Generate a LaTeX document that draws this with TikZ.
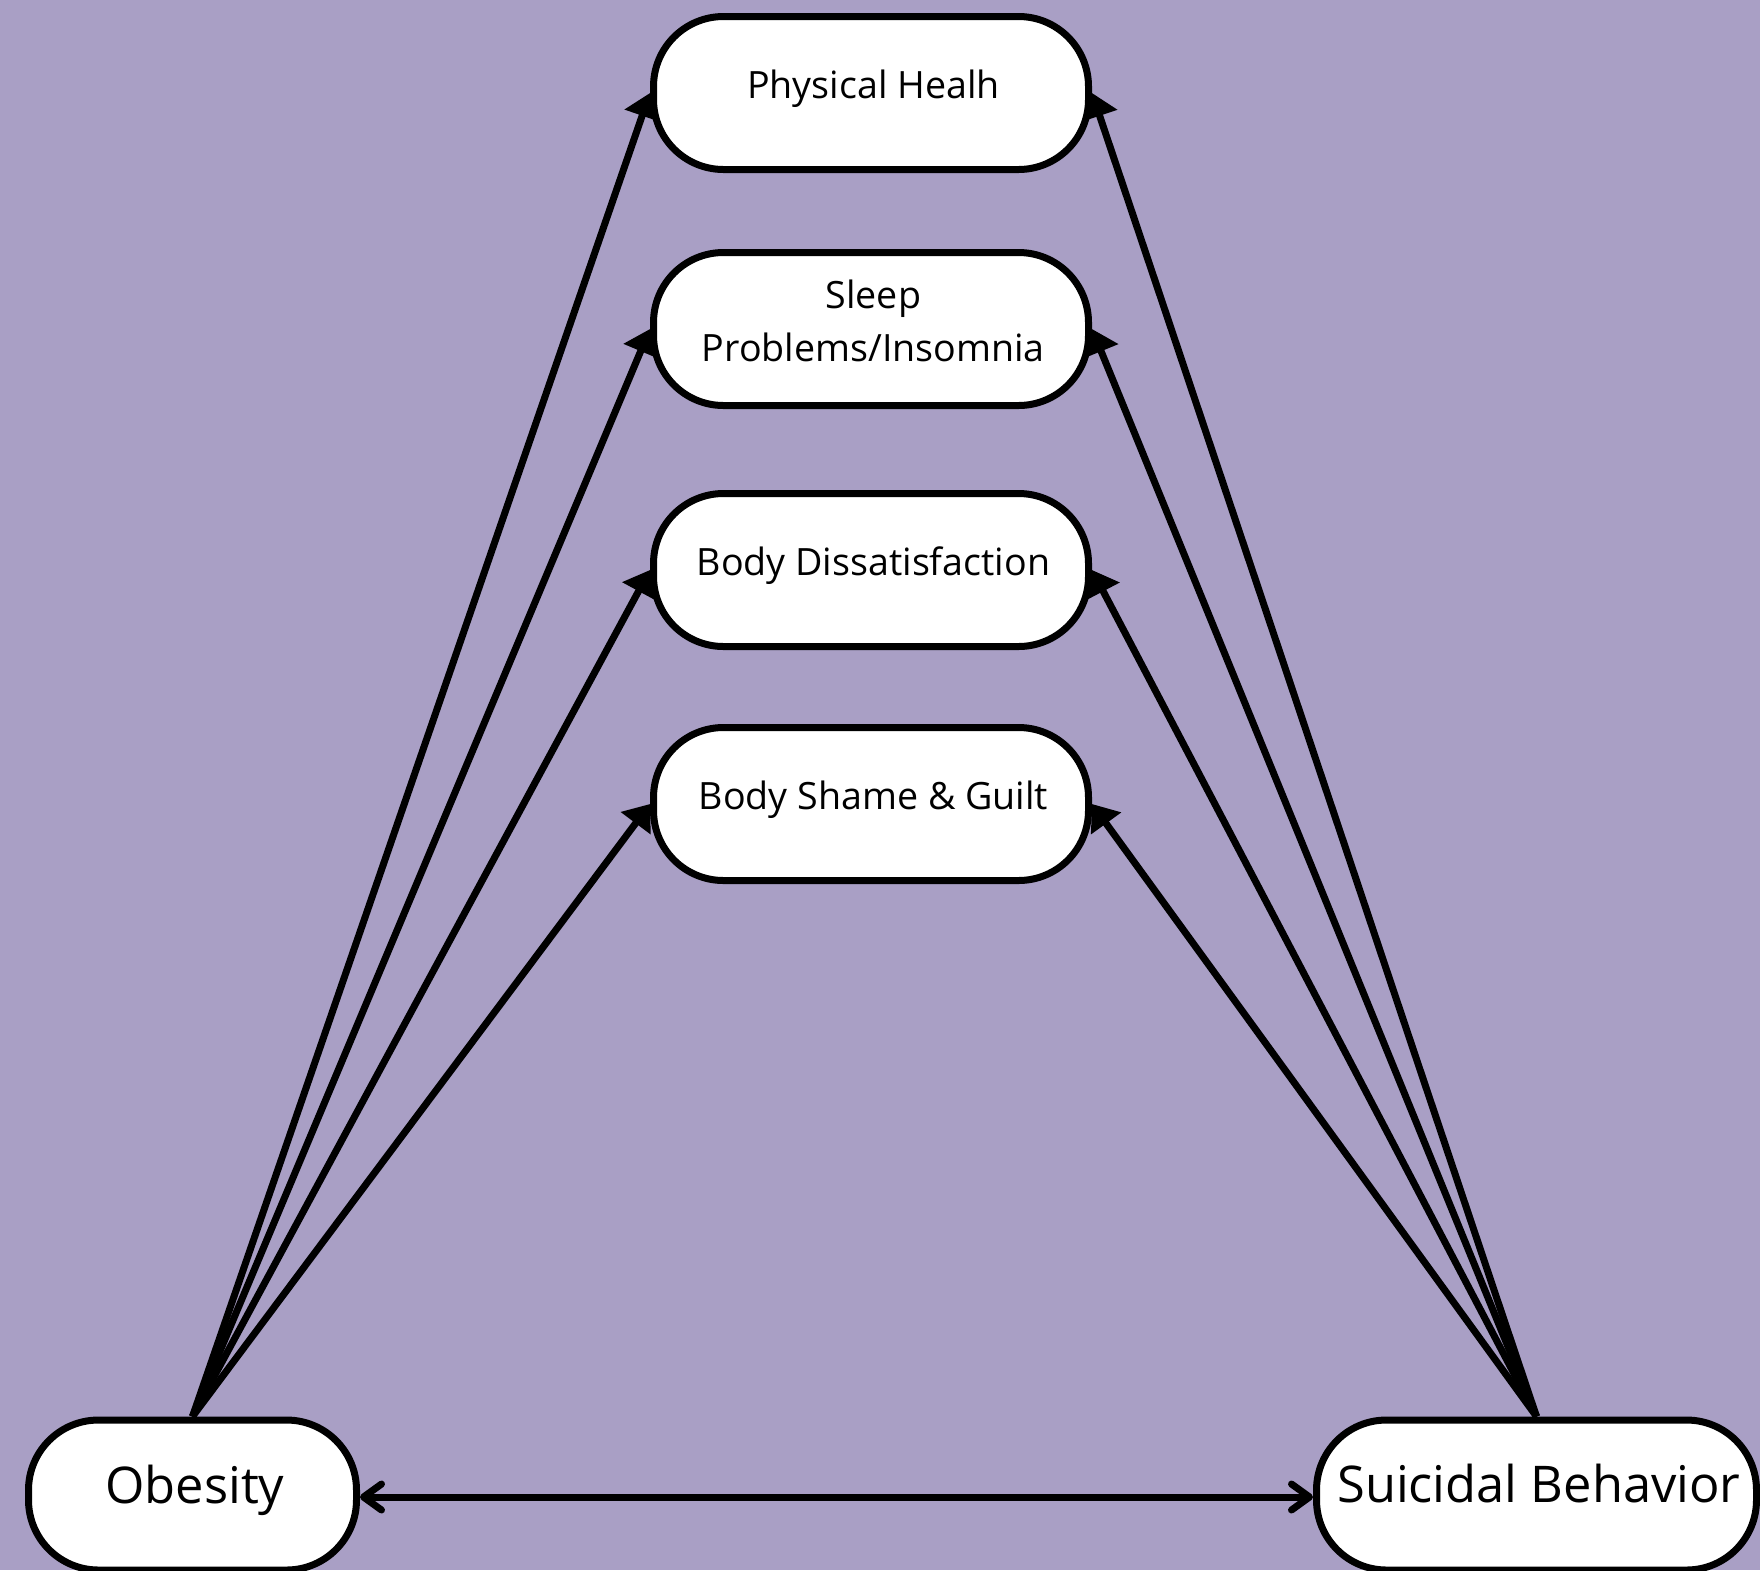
\documentclass[tikz,border=0pt]{standalone}
\usepackage{fontspec}
\setmainfont{Open Sans}
\usetikzlibrary{arrows.meta}

\definecolor{canvas}{RGB}{169,159,197}

% layers: page colour, then the links, then the boxes on top
\pgfdeclarelayer{back}
\pgfdeclarelayer{links}
\pgfsetlayers{back,links,main}

\begin{document}
\begin{tikzpicture}[x=0.5pt,y=-0.5pt,
  stage/.style={draw=black, line width=3.5pt, fill=white, rounded corners=35pt,
    minimum width=217.5pt, minimum height=76.5pt, inner sep=0pt},
  endbox/.style={stage, minimum height=75pt},
  midtext/.style={font=\fontsize{18.8pt}{26.5pt}\selectfont, inner sep=0pt,
    anchor=base, align=center},
  bigtext/.style={font=\fontsize{25.3pt}{32pt}\selectfont, inner sep=0pt, anchor=base},
  link/.style={line width=3.5pt, -{Triangle[length=12pt,width=18pt]}},
  mutual/.style={line width=3.5pt,
    {Straight Barb[length=9pt,width=13pt,round]}-{Straight Barb[length=9pt,width=13pt,round]}}
]
\useasboundingbox (0,0) rectangle (1760,1570);
\begin{pgfonlayer}{back}
  \fill[canvas] (0,0) rectangle (1760,1570);
\end{pgfonlayer}

% mediating factors
\node[stage] (ph) at (871,93) {};
\node[stage] (sl) at (871,329) {};
\node[stage] (bd) at (871,570) {};
\node[stage] (bs) at (871,804) {};

% labels sit on their baselines (a two-line label on its last line)
\node[midtext] (phT) at ([xshift=1.2pt,yshift=-2.75pt]ph.center) {Physical Healh};
\node[midtext] (slT) at ([xshift=1.2pt,yshift=-16.25pt]sl.center) {Sleep\\Problems/Insomnia};
\node[midtext] (bdT) at ([xshift=1.2pt,yshift=-2.75pt]bd.center) {Body Dissatisfaction};
\node[midtext] (bsT) at ([xshift=1.2pt,yshift=-2.75pt]bs.center) {Body Shame \& Guilt};

% end points
\node[endbox, minimum width=164pt] (ob) at (192.5,1495) {};
\node[endbox, minimum width=220pt] (sb) at (1536.5,1495) {};
\node[bigtext] (obT) at ([xshift=1.2pt,yshift=-4pt]ob.center) {Obesity};
\node[bigtext] (sbT) at ([xshift=1.2pt,yshift=-3.5pt]sb.center) {Suicidal Behavior};

\begin{pgfonlayer}{links}
  \draw[link] (ob.north) -- (ph.west);
  \draw[link] (ob.north) -- (sl.west);
  \draw[link] (ob.north) -- (bd.west);
  \draw[link] (ob.north) -- (bs.west);
  \draw[link] (sb.north) -- (ph.east);
  \draw[link] (sb.north) -- (sl.east);
  \draw[link] (sb.north) -- (bd.east);
  \draw[link] (sb.north) -- (bs.east);
  \draw[mutual] ([yshift=-1pt]ob.east) -- ([yshift=-1pt]sb.west);
\end{pgfonlayer}
\end{tikzpicture}
\end{document}
